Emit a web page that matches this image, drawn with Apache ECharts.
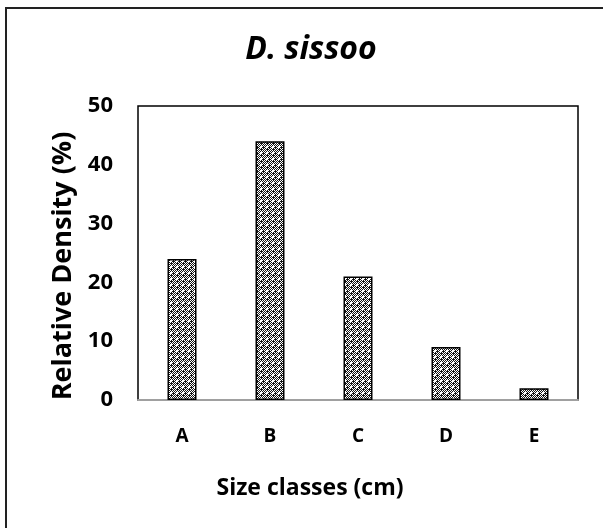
<!DOCTYPE html>
<html>
<head>
<meta charset="utf-8">
<script src="https://cdn.jsdelivr.net/npm/echarts@6/dist/echarts.min.js"></script>
<style>
  html, body { margin: 0; padding: 0; background: #fff; }
  #chart { width: 603px; height: 528px; }
</style>
</head>
<body>
<div id="chart"></div>
<script>
// Size classes and relative density per class
const categories = ['A', 'B', 'C', 'D', 'E'];
const density = [24, 44, 21, 9, 2];
const yTicks = [0, 10, 20, 30, 40, 50];

// Small stippled fill used for the bars
function makeStipple() {
  const c = document.createElement('canvas');
  c.width = 6; c.height = 6;
  const ctx = c.getContext('2d');
  ctx.fillStyle = '#151515';
  ctx.fillRect(0, 0, 6, 6);
  ctx.fillStyle = '#ffffff';
  const dots = [[0,0],[2,0],[4,0],[1,1],[3,1],[5,1],[0,2],[4,2],[1,3],[3,3],[0,4],[2,4],[4,4],[5,5],[1,5]];
  dots.forEach(([x, y]) => ctx.fillRect(x, y, 1, 1));
  ctx.fillRect(2, 2, 2, 2);
  return c;
}

const chart = echarts.init(document.getElementById('chart'), null, { renderer: 'canvas' });
const font = 'Open Sans';

chart.setOption({
  animation: false,
  backgroundColor: '#fff',
  title: {
    text: 'D. sissoo',
    left: 306, top: 29, textAlign: 'center',
    textStyle: { fontFamily: font, fontSize: 32, fontWeight: 'bold', fontStyle: 'italic', color: '#000' }
  },
  graphic: [{
    type: 'rect',
    shape: { x: 6, y: 8, width: 620, height: 540 },
    style: { fill: 'none', stroke: '#222', lineWidth: 2 },
    silent: true
  }],
  grid: {
    left: 138, top: 106, right: 25, bottom: 128,
    show: true, borderColor: '#000', borderWidth: 1.5, backgroundColor: 'transparent'
  },
  xAxis: {
    type: 'category',
    data: categories,
    name: 'Size classes (cm)',
    nameLocation: 'middle',
    nameGap: 77,
    nameTextStyle: { fontFamily: font, fontSize: 23, fontWeight: 'bold', color: '#000', padding: [0, 96, 0, 0] },
    axisLine: { show: true, lineStyle: { color: '#a0a0a0', width: 2 } },
    axisTick: { show: false },
    axisLabel: { margin: 27, fontFamily: font, fontSize: 19, fontWeight: 'bold', color: '#000' }
  },
  yAxis: {
    type: 'value',
    min: yTicks[0], max: yTicks[yTicks.length - 1], interval: 10,
    name: 'Relative Density (%)',
    nameLocation: 'middle',
    nameGap: 58,
    nameRotate: 90,
    nameTextStyle: { fontFamily: font, fontSize: 27, fontWeight: 'bold', color: '#000', padding: [0, 26, 0, 0] },
    axisLine: { show: false },
    axisTick: { show: false },
    splitLine: { show: false },
    axisLabel: { margin: 25, fontFamily: font, fontSize: 22, fontWeight: 'bold', color: '#000' }
  },
  series: [{
    type: 'bar',
    data: density,
    barWidth: 29,
    itemStyle: {
      color: { image: makeStipple(), repeat: 'repeat' },
      borderColor: '#000',
      borderWidth: 1.5
    }
  }]
});
</script>
</body>
</html>
